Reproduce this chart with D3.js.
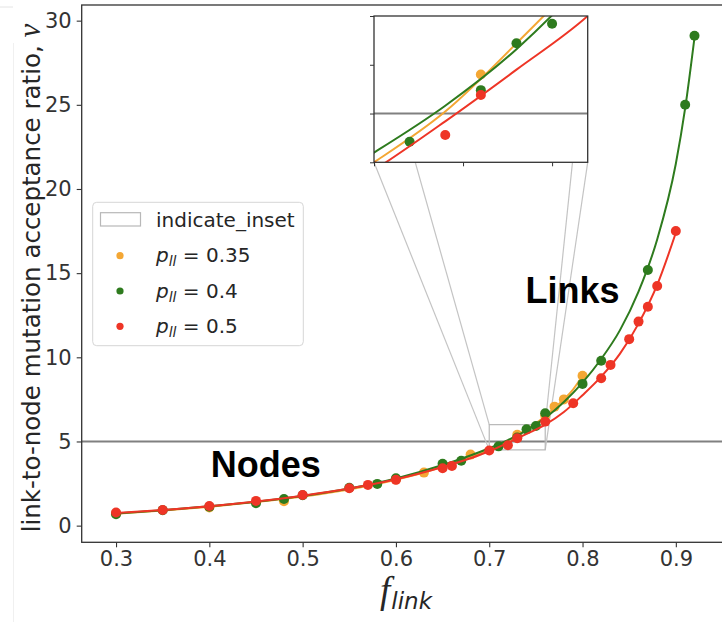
<!DOCTYPE html>
<html><head><meta charset="utf-8">
<script src="https://cdn.jsdelivr.net/npm/d3@7"></script>
<style>body{margin:0;background:#fff}</style>
</head><body><svg id="c" width="722" height="622"></svg>
<script>
// ---------------- data ----------------
const xTicks = [0.3, 0.4, 0.5, 0.6, 0.7, 0.8, 0.9];
const yTicks = [0, 5, 10, 15, 20, 25, 30];
const insetXTicks = [0.70, 0.725, 0.75];
const insetYTicks = [4.5, 5.0, 5.5, 6.0];
const threshold = 5;
const insetRange = {f: [0.70, 0.76], v: [4.5, 6.0]};

const pValues = ["0.35", "0.4", "0.5"];

// scatter points (f_link, v)
const orangeF = [0.30,0.40,0.48,0.60,0.63,0.68,0.73,0.76,0.77,0.78,0.80];
const orangeV = [0.72,1.08,1.45,2.74,3.15,4.22,5.40,6.55,7.07,7.50,8.90];
const greenF = [0.30,0.35,0.40,0.45,0.48,0.50,0.55,0.58,0.60,0.65,0.67,0.71,0.73,0.74,0.75,0.76,0.80,0.82,0.87,0.91,0.92];
const greenV = [0.68,0.92,1.12,1.33,1.58,1.80,2.25,2.48,2.82,3.68,3.86,4.71,5.24,5.72,5.92,6.68,8.42,9.80,15.19,25.0,29.1];
const redF = [0.30,0.35,0.40,0.45,0.50,0.55,0.57,0.60,0.65,0.66,0.70,0.72,0.73,0.76,0.79,0.82,0.83,0.85,0.86,0.87,0.88,0.90];
const redV = [0.78,0.93,1.17,1.47,1.82,2.22,2.42,2.72,3.41,3.55,4.46,4.78,5.19,6.18,7.27,8.76,9.55,11.08,12.12,13.0,14.24,17.5];

// fitted curves
const orangeFitF = [0.30,0.35,0.40,0.45,0.50,0.55,0.60,0.65,0.70,0.72,0.74,0.76,0.77,0.78,0.79,0.80];
const orangeFitV = [0.70,0.90,1.12,1.40,1.73,2.15,2.72,3.50,4.50,5.02,5.72,6.50,7.00,7.50,8.10,8.90];
const greenFitF = [0.30,0.35,0.40,0.45,0.50,0.55,0.60,0.65,0.70,0.72,0.74,0.76,0.78,0.80,0.82,0.84,0.86,0.88,0.90,0.91,0.92];
const greenFitV = [0.72,0.92,1.15,1.42,1.76,2.20,2.80,3.60,4.60,5.08,5.66,6.40,7.35,8.50,9.90,11.6,13.9,17.0,21.5,24.8,29.0];
const redFitF = [0.30,0.35,0.40,0.45,0.50,0.55,0.60,0.65,0.70,0.72,0.74,0.76,0.78,0.80,0.82,0.84,0.86,0.88,0.90];
const redFitV = [0.75,0.93,1.15,1.43,1.78,2.20,2.75,3.48,4.42,4.92,5.45,6.00,6.75,7.75,8.85,10.2,12.0,14.3,17.4];

const colors = ["#f4a734", "#2e7b1e", "#ee3526"];

// ---------------- build ----------------
const zip = (a, b) => a.map((d, i) => [d, b[i]]);
const series = [
  {pts: zip(orangeF, orangeV), fit: zip(orangeFitF, orangeFitV), color: colors[0]},
  {pts: zip(greenF, greenV), fit: zip(greenFitF, greenFitV), color: colors[1]},
  {pts: zip(redF, redV), fit: zip(redFitF, redFitV), color: colors[2]}
];

const svg = d3.select("#c");
svg.append("rect").attr("width", 722).attr("height", 622).attr("fill", "#fff");

const L = 81.7, R = 730, T = 5, B = 542.3;
const x = d3.scaleLinear().domain([0.2632, 0.2632 + (R - L) / 933]).range([L, R]);
const y = d3.scaleLinear().domain([-0.99, 30.93]).range([B, T]);

const defs = svg.append("defs");
defs.append("clipPath").attr("id", "mainclip").append("rect")
  .attr("x", L).attr("y", T).attr("width", R - L).attr("height", B - T);

// faint screenshot edge lines
svg.append("line").attr("x1", 0).attr("x2", 13).attr("y1", 7).attr("y2", 7).attr("stroke", "#e4e4e4");
svg.append("line").attr("x1", 13.5).attr("x2", 13.5).attr("y1", 43).attr("y2", 622).attr("stroke", "#f0f0f0");

// axes
const tickFont = "DejaVu Sans, sans-serif";
const gx = svg.append("g").attr("transform", `translate(0,${B})`)
  .call(d3.axisBottom(x).tickValues(xTicks).tickFormat(d3.format(".1f")).tickSize(5).tickPadding(4).tickSizeOuter(0));
const gy = svg.append("g").attr("transform", `translate(${L},0)`)
  .call(d3.axisLeft(y).tickValues(yTicks).tickFormat(d3.format("d")).tickSize(5).tickPadding(5).tickSizeOuter(0));
[gx, gy].forEach(g => {
  g.select(".domain").remove();
  g.selectAll(".tick line").attr("stroke", "#333").attr("stroke-width", 1.1);
  g.selectAll(".tick text").attr("fill", "#333").style("font-family", tickFont).style("font-size", "21px");
});

const plot = svg.append("g").attr("clip-path", "url(#mainclip)");

// threshold line
plot.append("line").attr("x1", L).attr("x2", R).attr("y1", y(threshold)).attr("y2", y(threshold))
  .attr("stroke", "#808080").attr("stroke-width", 2);

// inset geometry
const IL = 374, IR = 587.7, IT = 16, IB = 162.3;
const rx0 = x(insetRange.f[0]), rx1 = x(insetRange.f[1]);
const ry0 = y(insetRange.v[1]), ry1 = y(insetRange.v[0]);

// connectors
const conn = [[rx0, ry0, IL, IT], [rx0, ry1, IL, IB], [rx1, ry0, IR, IT], [rx1, ry1, IR, IB]];
plot.selectAll("line.conn").data(conn).join("line").attr("class", "conn")
  .attr("x1", d => d[0]).attr("y1", d => d[1]).attr("x2", d => d[2]).attr("y2", d => d[3])
  .attr("stroke", "#c4c4c4").attr("stroke-width", 1.2);
plot.append("rect").attr("x", rx0).attr("y", ry0).attr("width", rx1 - rx0).attr("height", ry1 - ry0)
  .attr("fill", "none").attr("stroke", "#b8b8b8").attr("stroke-width", 1.2);

function drawSeries(g, xs, ys, r, lw) {
  const line = d3.line().x(d => xs(d[0])).y(d => ys(d[1])).curve(d3.curveMonotoneX);
  series.forEach(s => {
    g.selectAll(null).data(s.pts).join("circle")
      .attr("cx", d => xs(d[0])).attr("cy", d => ys(d[1])).attr("r", r).attr("fill", s.color);
    g.append("path").datum(s.fit).attr("d", line).attr("fill", "none")
      .attr("stroke", s.color).attr("stroke-width", lw);
  });
}
drawSeries(plot, x, y, 5, 2);

// spines (right spine lies outside the picture)
svg.append("rect").attr("x", L).attr("y", T).attr("width", R - L).attr("height", B - T)
  .attr("fill", "none").attr("stroke", "#333").attr("stroke-width", 1.3);

// region labels
svg.append("text").attr("x", 265.8).attr("y", 477.3).attr("text-anchor", "middle")
  .style("font-family", "Liberation Sans, Arial, sans-serif").style("font-weight", "bold").style("font-size", "36px")
  .text("Nodes");
svg.append("text").attr("x", 572.5).attr("y", 303.3).attr("text-anchor", "middle")
  .style("font-family", "Liberation Sans, Arial, sans-serif").style("font-weight", "bold").style("font-size", "36px")
  .text("Links");

// axis labels
const yl = svg.append("text").attr("transform", "translate(40,278) rotate(-90)").attr("text-anchor", "middle")
  .attr("fill", "#262626").style("font-family", tickFont).style("font-size", "24.5px");
yl.append("tspan").text("link-to-node mutation acceptance ratio, ");
yl.append("tspan").style("font-family", "Liberation Serif, serif").style("font-style", "italic").style("font-size", "31px").text("v");

const xl = svg.append("text").attr("x", 406).attr("y", 603).attr("text-anchor", "middle").attr("fill", "#262626");
xl.append("tspan").style("font-family", "Liberation Serif, serif").style("font-style", "italic").style("font-size", "37px").text("f");
xl.append("tspan").attr("dy", 6).attr("dx", 1).style("font-family", tickFont).style("font-style", "italic").style("font-size", "23px").text("link");

// inset
const xi = d3.scaleLinear().domain(insetRange.f).range([IL, IR]);
const yi = d3.scaleLinear().domain(insetRange.v).range([IB, IT]);
defs.append("clipPath").attr("id", "insetclip").append("rect")
  .attr("x", IL).attr("y", IT).attr("width", IR - IL).attr("height", IB - IT);
svg.append("rect").attr("x", IL).attr("y", IT).attr("width", IR - IL).attr("height", IB - IT).attr("fill", "#fff");
const ig = svg.append("g").attr("clip-path", "url(#insetclip)");
ig.append("line").attr("x1", IL).attr("x2", IR).attr("y1", yi(threshold)).attr("y2", yi(threshold))
  .attr("stroke", "#808080").attr("stroke-width", 2);
drawSeries(ig, xi, yi, 5, 2);
const gxi = svg.append("g").attr("transform", `translate(0,${IB})`)
  .call(d3.axisBottom(xi).tickValues(insetXTicks).tickFormat("").tickSize(4).tickSizeOuter(0));
const gyi = svg.append("g").attr("transform", `translate(${IL},0)`)
  .call(d3.axisLeft(yi).tickValues(insetYTicks).tickFormat("").tickSize(4).tickSizeOuter(0));
[gxi, gyi].forEach(g => { g.select(".domain").remove(); g.selectAll(".tick line").attr("stroke", "#333"); });
svg.append("rect").attr("x", IL).attr("y", IT).attr("width", IR - IL).attr("height", IB - IT)
  .attr("fill", "none").attr("stroke", "#333").attr("stroke-width", 1.3);

// legend
const lg = svg.append("g");
lg.append("rect").attr("x", 92.7).attr("y", 202.3).attr("width", 210.6).attr("height", 143.4).attr("rx", 4)
  .attr("fill", "#fff").attr("fill-opacity", 0.8).attr("stroke", "#d6d6d6").attr("stroke-width", 1);
lg.append("rect").attr("x", 100.5).attr("y", 212.7).attr("width", 40).attr("height", 13.3)
  .attr("fill", "#fff").attr("stroke", "#b8b8b8").attr("stroke-width", 1.2);
lg.append("text").attr("x", 156).attr("y", 226.5).attr("fill", "#262626")
  .style("font-family", tickFont).style("font-size", "20px").text("indicate_inset");
pValues.forEach((p, i) => {
  const cy = 255.7 + i * 35.3;
  lg.append("circle").attr("cx", 120).attr("cy", cy).attr("r", 3.6).attr("fill", colors[i]);
  const t = lg.append("text").attr("x", 156).attr("y", cy + 6.5).attr("fill", "#262626")
    .style("font-family", tickFont).style("font-size", "20px");
  t.append("tspan").style("font-style", "italic").text("p");
  t.append("tspan").attr("dy", 4).style("font-style", "italic").style("font-size", "14px").text("ll");
  t.append("tspan").attr("dy", -4).text(" = " + p);
});
</script></body></html>
